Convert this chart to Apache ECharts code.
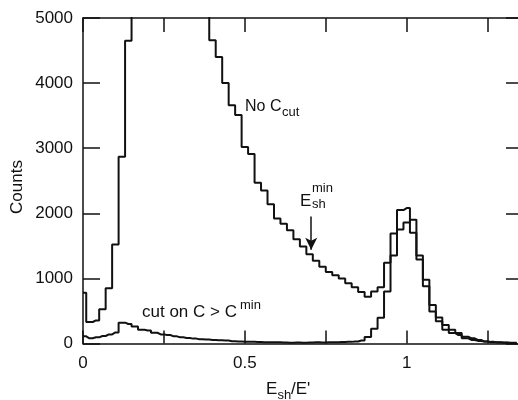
<!DOCTYPE html>
<html>
<head>
<meta charset="utf-8">
<script src="https://cdn.jsdelivr.net/npm/echarts@6/dist/echarts.min.js"></script>
<style>
html,body{margin:0;padding:0;background:#fff;}
#chart{width:518px;height:400px;}
</style>
</head>
<body>
<div id="chart"></div>
<script>
// Bin centres of the histogram (E_sh/E'), bin width 0.02
var binCenters = [0.00,0.02,0.04,0.06,0.08,0.10,0.12,0.14,0.16,0.18,0.20,0.22,0.24,0.26,0.28,0.30,0.32,0.34,0.36,0.38,
  0.40,0.42,0.44,0.46,0.48,0.50,0.52,0.54,0.56,0.58,0.60,0.62,0.64,0.66,0.68,0.70,0.72,0.74,0.76,0.78,
  0.80,0.82,0.84,0.86,0.88,0.90,0.92,0.94,0.96,0.98,1.00,1.02,1.04,1.06,1.08,1.10,1.12,1.14,1.16,1.18,
  1.20,1.22,1.24,1.26,1.28,1.30,1.32,1.34];

// "No C_cut" counts (bins 0.16-0.38 are off scale, above 5000)
var noCutCounts = [780,330,355,525,850,1520,2870,4650,6000,7000,7500,7600,7400,7000,6600,6200,5900,5600,5300,5100,
  4660,4400,4000,3660,3510,3020,2910,2470,2350,2140,1920,1840,1740,1600,1490,1370,1270,1180,1100,1050,
  1000,925,865,790,720,800,865,1240,1690,2050,2080,1700,1290,880,490,340,210,160,130,80,
  55,40,30,20,15,10,8,5];

// "cut on C > C^min" counts
var cutCounts = [110,80,95,115,140,170,320,300,260,210,200,165,140,130,110,95,85,75,65,60,
  55,50,45,35,30,28,25,22,20,18,18,15,12,15,12,15,18,15,18,20,
  22,25,30,45,100,225,395,800,1350,1750,1860,1900,1350,980,590,400,285,210,160,105,
  80,55,30,25,20,15,10,10];

var xTickLabels = {'0':'0','0.5':'0.5','1':'1'};

function pairs(xs, ys){ var out=[]; for(var i=0;i<xs.length;i++){ out.push([xs[i], ys[i]]); } return out; }

var FONT = 'Liberation Sans, Arial, Helvetica, sans-serif';
var chart = echarts.init(document.getElementById('chart'), null, {renderer:'canvas'});

var axisLineStyle = {color:'#111', width:1.5};
var option = {
  animation:false,
  backgroundColor:'#ffffff',
  grid:{left:83, top:18, width:437, height:325.5, containLabel:false, outerBoundsMode:'none'},
  xAxis:[{
    type:'value', min:0, max:1.35, interval:0.25, position:'bottom',
    axisLine:{show:true, onZero:false, lineStyle:axisLineStyle},
    axisTick:{show:true, inside:true, length:13, lineStyle:axisLineStyle},
    splitLine:{show:false},
    axisLabel:{show:true, margin:11, color:'#111', fontSize:17, fontFamily:FONT, showMaxLabel:false,
      formatter:function(v){ var k=String(Math.round(v*100)/100); return xTickLabels[k]!==undefined? xTickLabels[k] : ''; }}
  },{
    type:'value', min:0, max:1.35, interval:0.25, position:'top',
    axisLine:{show:true, onZero:false, lineStyle:axisLineStyle},
    axisTick:{show:true, inside:true, length:14, lineStyle:axisLineStyle},
    splitLine:{show:false}, axisLabel:{show:false}
  }],
  yAxis:[{
    type:'value', min:0, max:5000, interval:1000, position:'left',
    axisLine:{show:true, onZero:false, lineStyle:axisLineStyle},
    axisTick:{show:true, inside:true, length:17, lineStyle:axisLineStyle},
    splitLine:{show:false},
    axisLabel:{show:true, margin:10, color:'#111', fontSize:17, fontFamily:FONT,
      formatter:function(v){ return String(v); }}
  },{
    type:'value', min:0, max:5000, interval:1000, position:'right',
    axisLine:{show:true, onZero:false, lineStyle:axisLineStyle},
    axisTick:{show:true, inside:true, length:14, lineStyle:axisLineStyle},
    splitLine:{show:false}, axisLabel:{show:false}
  }],
  series:[{
    name:'No C_cut', type:'line', step:'middle', xAxisIndex:0, yAxisIndex:0,
    data:pairs(binCenters, noCutCounts), showSymbol:false, clip:true,
    lineStyle:{color:'#111', width:2},
    markLine:{
      silent:true, symbol:['none','arrow'], symbolSize:[9,12],
      label:{show:false},
      lineStyle:{color:'#111', width:1.5, type:'solid'},
      data:[[{coord:[0.705,1950]},{coord:[0.705,1440]}]]
    }
  },{
    name:'cut on C > C^min', type:'line', step:'middle', xAxisIndex:0, yAxisIndex:0,
    data:pairs(binCenters, cutCounts), showSymbol:false, clip:true,
    lineStyle:{color:'#111', width:2}
  }],
  graphic:[
    {type:'text', x:17, y:187, rotation:Math.PI/2,
      style:{text:'Counts', fill:'#111', font:'17px '+FONT, align:'center', verticalAlign:'middle'}},
    {type:'text', x:266, y:389, style:{text:'E', fill:'#111', font:'17px '+FONT, align:'left', verticalAlign:'middle'}},
    {type:'text', x:277.5, y:395, style:{text:'sh', fill:'#111', font:'13px '+FONT, align:'left', verticalAlign:'middle'}},
    {type:'text', x:291, y:389, style:{text:"/E'", fill:'#111', font:'17px '+FONT, align:'left', verticalAlign:'middle'}},

    {type:'text', x:245, y:107, style:{text:'No C', fill:'#111', font:'16px '+FONT, align:'left', verticalAlign:'middle'}},
    {type:'text', x:282, y:112, style:{text:'cut', fill:'#111', font:'13px '+FONT, align:'left', verticalAlign:'middle'}},

    {type:'text', x:300, y:201, style:{text:'E', fill:'#111', font:'17px '+FONT, align:'left', verticalAlign:'middle'}},
    {type:'text', x:312, y:188, style:{text:'min', fill:'#111', font:'13px '+FONT, align:'left', verticalAlign:'middle'}},
    {type:'text', x:312, y:204, style:{text:'sh', fill:'#111', font:'13px '+FONT, align:'left', verticalAlign:'middle'}},

    {type:'text', x:142, y:312.5, style:{text:'cut on C > C', fill:'#111', font:'17px '+FONT, align:'left', verticalAlign:'middle'}},
    {type:'text', x:240, y:305, style:{text:'min', fill:'#111', font:'13px '+FONT, align:'left', verticalAlign:'middle'}}
  ]
};
chart.setOption(option);
</script>
</body>
</html>
